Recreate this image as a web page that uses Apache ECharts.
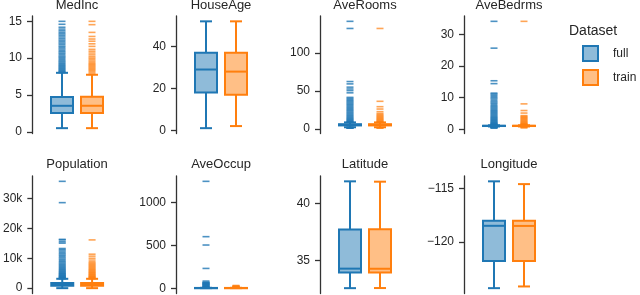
<!DOCTYPE html>
<html><head><meta charset="utf-8">
<script src="https://cdn.jsdelivr.net/npm/echarts@6/dist/echarts.min.js"></script>
<style>html,body{margin:0;padding:0;background:#fff}#c{width:640px;height:295px}</style>
</head><body><div id="c"></div>
<script>
// ---------- data ----------
const variables = ['MedInc','HouseAge','AveRooms','AveBedrms','Population','AveOccup','Latitude','Longitude'];
const groups = ['full','train'];
// five-number summaries: [lower whisker, Q1, median, Q3, upper whisker]
const fullBoxes = [
  [0.4999, 2.563, 3.535, 4.743, 8.013],
  [1, 18, 29, 37, 52],
  [2.03, 4.44, 5.23, 6.05, 8.47],
  [0.866, 1.006, 1.049, 1.0995, 1.24],
  [3, 787, 1166, 1725, 3132],
  [1.16, 2.43, 2.818, 3.282, 4.56],
  [32.54, 33.93, 34.26, 37.71, 41.95],
  [-124.35, -121.8, -118.49, -118.01, -114.31]
];
const trainBoxes = [
  [0.4999, 2.57, 3.54, 4.75, 7.75],
  [2, 17, 28, 37, 52],
  [2.05, 4.44, 5.23, 6.05, 8.45],
  [0.87, 1.006, 1.049, 1.0995, 1.24],
  [3, 790, 1166, 1724, 3130],
  [1.17, 2.43, 2.82, 3.28, 4.55],
  [32.55, 33.93, 34.25, 37.72, 41.92],
  [-124.19, -121.79, -118.5, -118.01, -114.57]
];
const fullOutliers = [
  [8.05, 8.15, 8.26, 8.37, 8.5, 8.63, 8.76, 8.9, 9.03, 9.17, 9.32, 9.48, 9.63, 9.8, 9.97, 10.14, 10.3, 10.5, 10.68, 10.87, 11.05, 11.25, 11.45, 11.63, 11.85, 12.05, 12.25, 12.45, 12.66, 12.88, 13.1, 13.3, 13.5, 13.72, 13.95, 14.2, 14.6, 15.0001],
  [],
  [0.846, 1.13, 1.36, 1.6, 1.82, 1.98, 8.6, 9.3, 10.1, 11.0, 12.0, 13.1, 14.2, 15.4, 16.7, 18.0, 19.4, 20.8, 22.2, 23.7, 25.1, 26.6, 28.0, 29.5, 31.0, 32.5, 34.0, 35.5, 37.0, 38.5, 40.0, 41.5, 47.5, 50.4, 52.6, 55.0, 59.3, 62.4, 132.5, 141.909],
  [0.333, 0.45, 0.56, 0.65, 0.72, 0.79, 0.84, 1.27, 1.35, 1.45, 1.58, 1.72, 1.88, 2.05, 2.25, 2.45, 2.68, 2.9, 3.15, 3.4, 3.65, 3.9, 4.2, 4.5, 4.8, 5.1, 5.4, 5.7, 6.0, 6.35, 6.7, 7.05, 7.4, 7.8, 8.2, 8.6, 9.0, 9.5, 9.9, 10.3, 10.7, 11.1, 11.4, 14.4, 15.3, 25.6, 34.067],
  [3140, 3260, 3390, 3530, 3680, 3840, 4010, 4190, 4380, 4580, 4790, 5010, 5250, 5500, 5760, 6040, 6330, 6640, 6960, 7300, 7650, 8020, 8400, 8800, 9210, 9640, 10100, 10550, 11000, 11450, 11900, 12400, 12870, 13250, 15040, 15507, 16122, 16305, 28566, 35682],
  [0.692, 0.9, 1.1, 4.6, 5.5, 7, 9, 12, 16, 21, 27, 33.4, 37.1, 41.2, 47, 51.4, 55.2, 62, 63.8, 70, 83.2, 230.2, 502.5, 599.7, 1243.333],
  [],
  []
];
const trainOutliers = [
  [7.8, 8.0, 8.2, 8.35, 8.5, 8.65, 8.8, 8.95, 9.1, 9.25, 9.4, 9.6, 9.8, 10.0, 10.2, 10.45, 10.7, 10.95, 11.2, 11.6, 11.95, 12.3, 12.6, 12.95, 13.5, 14.55, 15.0001],
  [],
  [0.89, 1.3, 1.75, 8.6, 9.3, 10.1, 11.0, 12.0, 13.0, 14.1, 15.2, 16.4, 17.6, 18.9, 20.3, 22.6, 26.1, 29.2, 36.3, 132.5],
  [0.4, 0.6, 0.75, 1.27, 1.36, 1.47, 1.6, 1.75, 1.9, 2.1, 2.3, 2.55, 2.8, 3.05, 3.3, 3.55, 3.8, 4.05, 4.3, 5.1, 5.9, 8.0, 34.067],
  [3140, 3290, 3450, 3620, 3800, 3990, 4190, 4400, 4620, 4850, 5090, 5340, 5600, 5870, 6150, 6440, 6740, 7050, 7370, 7700, 8040, 8400, 8800, 9400, 10000, 10700, 11350, 16122],
  [0.75, 1.0, 4.6, 5.5, 7, 9, 12, 15.5, 19, 23, 27, 32],
  [],
  []
];
const yTicks = [
  [0, 5, 10, 15],
  [0, 20, 40],
  [0, 50, 100],
  [0, 10, 20, 30],
  [0, 10000, 20000, 30000],
  [0, 500, 1000],
  [35, 40],
  [-120, -115]
];
const legendTitle = 'Dataset';

// ---------- style / layout ----------
const FONT = '"Liberation Sans", Arial, sans-serif';
const TXT = '#262626';
const AX = '#333333';
const BLUE = '#1f77b4', BLUE_FILL = '#8fbbd9';
const ORANGE = '#ff7f0e', ORANGE_FILL = '#ffbf86';
const axisX = [32, 176, 320, 464];
const rowTop = [16, 176];
const rowH = 117.5;

function fmt(i, v) {
  if (variables[i] === 'Population') return v === 0 ? '0' : (v / 1000) + 'k';
  return v < 0 ? '\u2212' + Math.abs(v) : String(v);
}

function boxRenderer(edge, fill) {
  return function (params, api) {
    const x = api.value(0);
    const ys = [1, 2, 3, 4, 5].map(d => api.coord([x, api.value(d)]));
    const cx = ys[0][0];
    const [lo, q1, md, q3, hi] = ys.map(q => q[1]);
    const bw = 22, cw = 12, lw = 2;
    const st = { stroke: edge, lineWidth: lw };
    return { type: 'group', children: [
      { type: 'line', shape: { x1: cx, y1: q1, x2: cx, y2: lo }, style: st },
      { type: 'line', shape: { x1: cx, y1: q3, x2: cx, y2: hi }, style: st },
      { type: 'line', shape: { x1: cx - cw / 2, y1: lo, x2: cx + cw / 2, y2: lo }, style: st },
      { type: 'line', shape: { x1: cx - cw / 2, y1: hi, x2: cx + cw / 2, y2: hi }, style: st },
      { type: 'rect', shape: { x: cx - bw / 2, y: q3, width: bw, height: Math.max(q1 - q3, 0.3) }, style: { fill: fill, stroke: edge, lineWidth: lw } },
      { type: 'line', shape: { x1: cx - bw / 2, y1: md, x2: cx + bw / 2, y2: md }, style: st }
    ] };
  };
}

const grids = [], xAxes = [], yAxes = [], series = [], titles = [];
variables.forEach((name, i) => {
  const col = i % 4, row = Math.floor(i / 4);
  grids.push({ left: axisX[col] + 15, top: rowTop[row], width: 60, height: rowH });
  const all = fullBoxes[i].concat(trainBoxes[i], fullOutliers[i], trainOutliers[i]);
  const lo = Math.min(...all), hi = Math.max(...all), pad = (hi - lo) * 0.05;
  xAxes.push({ gridIndex: i, type: 'category', data: groups, show: false, boundaryGap: true });
  yAxes.push({
    gridIndex: i, type: 'value', min: lo - pad, max: hi + pad, offset: 15,
    axisLine: { show: true, lineStyle: { color: AX, width: 1.3 } },
    axisTick: { show: true, length: 5, lineStyle: { color: AX, width: 1.3 }, customValues: yTicks[i] },
    axisLabel: { customValues: yTicks[i], formatter: v => fmt(i, v), color: TXT, fontFamily: FONT, fontSize: 12, margin: 10 },
    splitLine: { show: false }
  });
  titles.push({ text: name, left: axisX[col] + 45, top: row === 0 ? -1 : 157.5, textAlign: 'center', padding: 0,
    textStyle: { fontFamily: FONT, fontSize: 13, fontWeight: 'normal', color: TXT } });
  [[fullOutliers, BLUE, 0.8, 0], [trainOutliers, ORANGE, 0.7, 1]].forEach(([arr, c, op, k]) => {
    series.push({ type: 'scatter', name: groups[k] + ' outliers', xAxisIndex: i, yAxisIndex: i,
      data: arr[i].map(v => [k, v]), symbol: 'rect', symbolSize: [7, 1.6],
      itemStyle: { color: c, opacity: op }, silent: true, z: 2 });
  });
  series.push({ type: 'custom', name: 'full', xAxisIndex: i, yAxisIndex: i, renderItem: boxRenderer(BLUE, BLUE_FILL),
    encode: { x: 0, y: [1, 2, 3, 4, 5] }, data: [[0].concat(fullBoxes[i])], z: 3, itemStyle: { color: BLUE_FILL } });
  series.push({ type: 'custom', name: 'train', xAxisIndex: i, yAxisIndex: i, renderItem: boxRenderer(ORANGE, ORANGE_FILL),
    encode: { x: 0, y: [1, 2, 3, 4, 5] }, data: [[1].concat(trainBoxes[i])], z: 3, itemStyle: { color: ORANGE_FILL } });
});
titles.push({ text: legendTitle, left: 569, top: 24, padding: 0,
  textStyle: { fontFamily: FONT, fontSize: 14, fontWeight: 'normal', color: TXT } });

const chart = echarts.init(document.getElementById('c'), null, { renderer: 'canvas' });
chart.setOption({
  animation: false,
  backgroundColor: '#ffffff',
  title: titles,
  grid: grids,
  xAxis: xAxes,
  yAxis: yAxes,
  legend: {
    orient: 'vertical', left: 582, top: 45, padding: 0, itemWidth: 15, itemHeight: 15, itemGap: 7,
    icon: 'rect', selectedMode: false,
    data: [
      { name: 'full', itemStyle: { color: BLUE_FILL, borderColor: BLUE, borderWidth: 2 } },
      { name: 'train', itemStyle: { color: ORANGE_FILL, borderColor: ORANGE, borderWidth: 2 } }
    ],
    textStyle: { fontFamily: FONT, fontSize: 12, color: TXT, padding: [0, 0, 0, 10] }
  },
  series: series
});
</script></body></html>
